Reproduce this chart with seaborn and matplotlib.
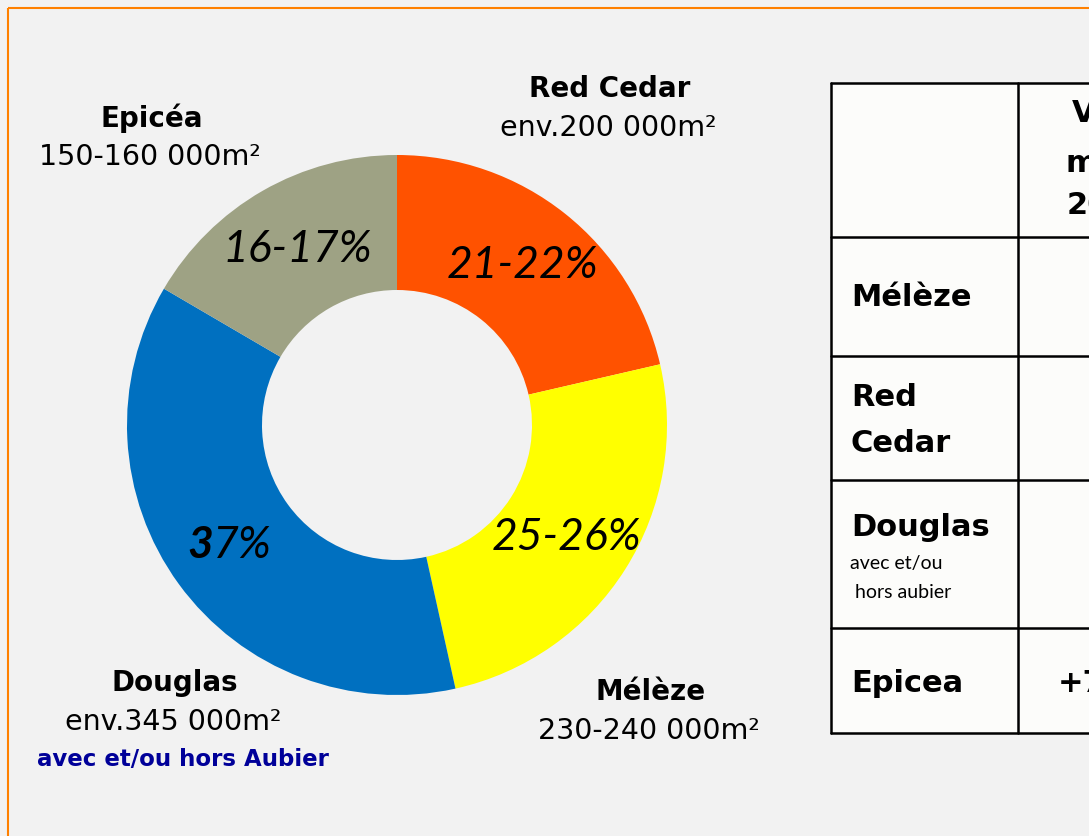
import matplotlib.pyplot as plt
import seaborn as sns

# surfaces in thousand m2, clockwise from 12 o'clock
species = ["Red Cedar", "Mélèze", "Douglas", "Epicéa"]
surface_k = [200, 235, 345, 155]
area_labels = ["env.200 000m²", "230-240 000m²", "env.345 000m²", "150-160 000m²"]
pct_labels = ["21-22%", "25-26%", "37%", "16-17%"]
colors = ["#FF5200", "#FFFF00", "#0070C0", "#9EA284"]

table_rows = ["Mélèze", "Red\nCedar", "Douglas", "Epicea"]
table_header = ["V", "m", "20"]
table_last = "+7"

sns.set_theme(style="white")
plt.rcParams["font.family"] = ["Lato", "DejaVu Sans"]
plt.rcParams["text.color"] = "black"

W, H = 1089, 836
BG = "#F2F2F2"
WIDE = ["DejaVu Sans"]
fig = plt.figure(figsize=(W / 100, H / 100), dpi=100, facecolor=BG)

# donut, placed by pixel box
cx, cy, R = 397, 425, 270
ax_pie = fig.add_axes([(cx - R) / W, (H - cy - R) / H, 2 * R / W, 2 * R / H])
ax_pie.pie(surface_k, colors=colors, startangle=90, counterclock=False,
           radius=1, wedgeprops=dict(width=0.5, linewidth=0))
ax_pie.set_xlim(-1, 1)
ax_pie.set_ylim(-1, 1)
ax_pie.set_facecolor("none")
ax_pie.axis("off")

# overlay in pixel coordinates (y down)
ax = fig.add_axes([0, 0, 1, 1], zorder=2)
ax.set_xlim(0, W)
ax.set_ylim(H, 0)
ax.patch.set_alpha(0)
ax.axis("off")

# orange frame on top and left
ax.plot([8, W], [8, 8], color="#FF8000", lw=1.5, solid_capstyle="butt")
ax.plot([8, 8], [8, H], color="#FF8000", lw=1.5, solid_capstyle="butt")

# percentages inside the ring
pct_pos = {"21-22%": (523, 265), "25-26%": (567, 537), "16-17%": (297, 250)}
for lab in pct_labels:
    if lab in pct_pos:
        x, y = pct_pos[lab]
        ax.text(x, y, lab, fontsize=32, style="italic", ha="center", va="center")
ax.text(213, 545, pct_labels[2][0], fontsize=32, style="italic", fontweight="bold",
        ha="right", va="center")
ax.text(213, 545, pct_labels[2][1:], fontsize=32, style="italic", ha="left", va="center")

# outside labels
name_pos = [(610, 89), (651, 692), (175, 683), (152, 118)]
for name, area, (x, y) in zip(species, area_labels, name_pos):
    ax.text(x, y, name, fontsize=20, fontweight="bold", family=WIDE, ha="center", va="center")
    ax.text(x - 2, y + 39, area, fontsize=20.5, family=WIDE, ha="center", va="center")
ax.text(183, 760, "avec et/ou hors Aubier", fontsize=16.5, fontweight="bold", family=WIDE,
        color="#000099", ha="center", va="center")

# table on the right, cut by the edge
x0, xm, x1 = 831, 1018, W + 20
ys = [83, 237, 356, 480, 628, 733]
ax.add_patch(plt.Rectangle((x0, ys[0]), x1 - x0, ys[-1] - ys[0],
                           facecolor="#FCFCFA", edgecolor="none"))
for y in ys:
    ax.plot([x0, x1], [y, y], color="black", lw=1.8)
for x in (x0, xm):
    ax.plot([x, x], [ys[0], ys[-1]], color="black", lw=1.8)

row_y = {"Mélèze": [298], "Red\nCedar": [398, 443], "Douglas": [527], "Epicea": [683]}
for lab in table_rows:
    for part, y in zip(lab.split("\n"), row_y[lab]):
        ax.text(851, y, part, fontsize=22, fontweight="bold", family=WIDE,
                ha="left", va="center")
ax.text(850, 563, "avec et/ou", fontsize=14, ha="left", va="center")
ax.text(850, 592, " hors aubier", fontsize=14, ha="left", va="center")

for txt, (x, y) in zip(table_header, [(1072, 113), (1066, 163), (1067, 205)]):
    ax.text(x, y, txt, fontsize=22, fontweight="bold", family=WIDE, ha="left", va="center")
ax.text(1058, 683, table_last, fontsize=22, fontweight="bold", family=WIDE,
        ha="left", va="center")

fig.savefig("out.png", dpi=100, facecolor=BG)
